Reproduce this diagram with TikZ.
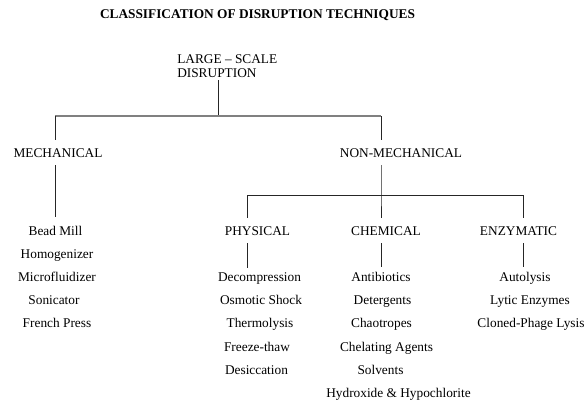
\documentclass[tikz,border=0pt]{standalone}
\usepackage{fontspec}
\setmainfont{Liberation Serif}
\usepackage{tikz}

\begin{document}
\begin{tikzpicture}[
  x=0.75pt, y=-0.75pt,
  every node/.style={font=\fontsize{10}{10.5}\selectfont},
  head/.style={anchor=base, inner xsep=1pt, inner ysep=6pt},
  item/.style={anchor=base, inner sep=3pt},
  link/.style={black!85, line width=0.6pt},
  trunk/.style={gray, line width=1.2pt}
]
  \useasboundingbox (0,0) rectangle (585,403);

  % Title
  \node[anchor=base, font=\fontsize{10}{10.5}\selectfont\bfseries] (title) at (257.5,19) {CLASSIFICATION OF DISRUPTION TECHNIQUES};

  % Root
  \node[anchor=north west, align=left, inner sep=0pt] (root) at (177,54) {LARGE – SCALE\\DISRUPTION};

  % Main branches
  \node[head] (mech) at (58,157) {MECHANICAL};
  \node[head] (nonmech) at (401,157) {NON-MECHANICAL};

  % Non-mechanical branches
  \node[head] (phys) at (257.5,235) {PHYSICAL};
  \node[head] (chem) at (386,235) {CHEMICAL};
  \node[head] (enz) at (518.5,235) {ENZYMATIC};

  % Techniques
  \foreach \i/\x/\y/\t in {1/55.5/235/Bead Mill, 2/57/258/Homogenizer, 3/57/281/Microfluidizer,
                           4/54/304/Sonicator, 5/57/327/French Press} {
    \node[item] (mech-\i) at (\x,\y) {\t};
  }
  \foreach \i/\x/\y/\t in {1/259.5/281/Decompression, 2/261/304/Osmotic Shock, 3/260/327/Thermolysis,
                           4/257/351/Freeze-thaw, 5/256.5/374/Desiccation} {
    \node[item] (phys-\i) at (\x,\y) {\t};
  }
  \foreach \i/\x/\y/\t in {1/381/281/Antibiotics, 2/382.5/304/Detergents, 3/381.5/327/Chaotropes,
                           4/386.5/351/Chelating Agents, 5/380.5/374/Solvents,
                           6/398.5/397/Hydroxide \& Hypochlorite} {
    \node[item] (chem-\i) at (\x,\y) {\t};
  }
  \foreach \i/\x/\y/\t in {1/525/281/Autolysis, 2/530/304/Lytic Enzymes, 3/531/327/Cloned-Phage Lysis} {
    \node[item] (enz-\i) at (\x,\y) {\t};
  }

  % Junctions
  \coordinate (top) at (218,116);
  \coordinate (mx) at (55,116);
  \coordinate (nx) at (381,116);
  \coordinate (px) at (247,195);
  \coordinate (cx) at (381,195);
  \coordinate (ex) at (523,195);

  % Tree lines
  \draw[link] (root.south -| top) ++(0,3) -- (top);
  \draw[trunk] (mx) -- (nx);
  \draw[link] (mx) -- (mx |- mech.north);
  \draw[link] (nx) -- (nx |- nonmech.north);
  \draw[link, shorten >=3.5pt] (mx |- mech.south) -- (mx |- mech-1.north);
  \draw[link] (nx |- nonmech.south) -- (cx) -- (cx |- chem.north);
  \draw[link] (px |- phys.north) -- (px) -- (ex) -- (ex |- enz.north);
  \draw[link] (px |- phys.south) -- (px |- phys-1.north);
  \draw[link] (cx |- chem.south) -- (cx |- chem-1.north);
  \draw[link] (ex |- enz.south) -- (ex |- enz-1.north);
\end{tikzpicture}
\end{document}
